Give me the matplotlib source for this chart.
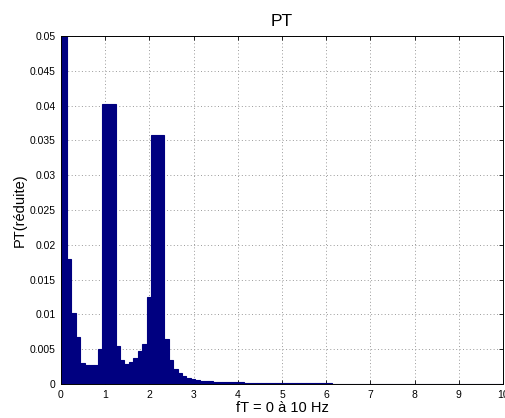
"""Spectre PT (reduit) en barres, style MATLAB."""

import matplotlib

matplotlib.use("Agg")
import matplotlib.pyplot as plt
import numpy as np

plt.rcParams["font.family"] = ["Liberation Sans", "DejaVu Sans"]

# frequency step of the spectrum and centre of the first bin (Hz)
DF = 0.1
F0 = -0.014

# PT (reduite) per frequency bin
PT = [
    0.05, 0.05, 0.018, 0.0102, 0.0067, 0.0030, 0.0028, 0.0028, 0.0028, 0.0051,
    0.0402, 0.0402, 0.0402, 0.0054, 0.0034, 0.0029, 0.0031, 0.0038, 0.0047, 0.0058,
    0.0125, 0.0358, 0.0358, 0.0358, 0.0065, 0.0034, 0.0022, 0.0016, 0.0011, 0.0008,
    0.0007, 0.0006, 0.0005, 0.00045, 0.0004, 0.00035, 0.00031, 0.0003, 0.00028, 0.00025,
    0.00023, 0.00022, 0.0002, 0.0002, 0.00019, 0.00016, 0.00016, 0.00015, 0.00015, 0.00014,
    0.00014, 0.00014, 0.00013, 0.00013, 0.00013, 0.00012, 0.00012, 0.00012, 0.00012, 0.00011,
    0.00011, 0.00011, 0.00006, 0.00006, 0.00006, 0.00006, 0.00006, 0.00006, 0.00006, 0.00006,
    0.00005, 0.00005, 0.00005, 0.00005, 0.00005, 0.00005, 0.00005, 0.00005, 0.00005, 0.00005,
    0.00005, 0.00005, 0.00005, 0.00005, 0.00005, 0.00005, 0.00005, 0.0, 0.0, 0.0,
    0.0, 0.0, 0.0, 0.0, 0.0, 0.0, 0.0, 0.0, 0.0, 0.0,
    0.0,
]

X_TICKS = [0, 1, 2, 3, 4, 5, 6, 7, 8, 9, 10]
Y_TICKS = [0, 0.005, 0.01, 0.015, 0.02, 0.025, 0.03, 0.035, 0.04, 0.045, 0.05]
Y_LABELS = ["0", "0.005", "0.01", "0.015", "0.02", "0.025", "0.03",
            "0.035", "0.04", "0.045", "0.05"]

freq = F0 + DF * np.arange(len(PT))

fig = plt.figure(figsize=(5.06, 4.18), dpi=100)
ax = fig.add_axes([61 / 506, 34 / 418, 442 / 506, 348 / 418])

ax.bar(freq, PT, width=DF, color="#000080", edgecolor="#000080",
       linewidth=0.8, zorder=2)

ax.set_xlim(0, 10)
ax.set_ylim(0, 0.05)
ax.set_xticks(X_TICKS)
ax.set_xticklabels([str(t) for t in X_TICKS])
ax.set_yticks(Y_TICKS)
ax.set_yticklabels(Y_LABELS)
ax.tick_params(direction="in", length=3, width=0.6, labelsize=7.5,
               top=True, right=True, pad=4)
ax.grid(True, linestyle=(0, (1, 2.5)), color="#9a9a9a", linewidth=0.7, zorder=0)
ax.set_axisbelow(True)
for sp in ax.spines.values():
    sp.set_linewidth(0.7)
    sp.set_zorder(3)

ax.set_title("PT", fontsize=12.5, pad=7)
ax.set_xlabel("fT = 0 à 10 Hz", fontsize=10.5, labelpad=1)
ax.set_ylabel("PT(réduite)", fontsize=10.5, labelpad=2)

fig.savefig("out.png", dpi=100)
plt.close(fig)
